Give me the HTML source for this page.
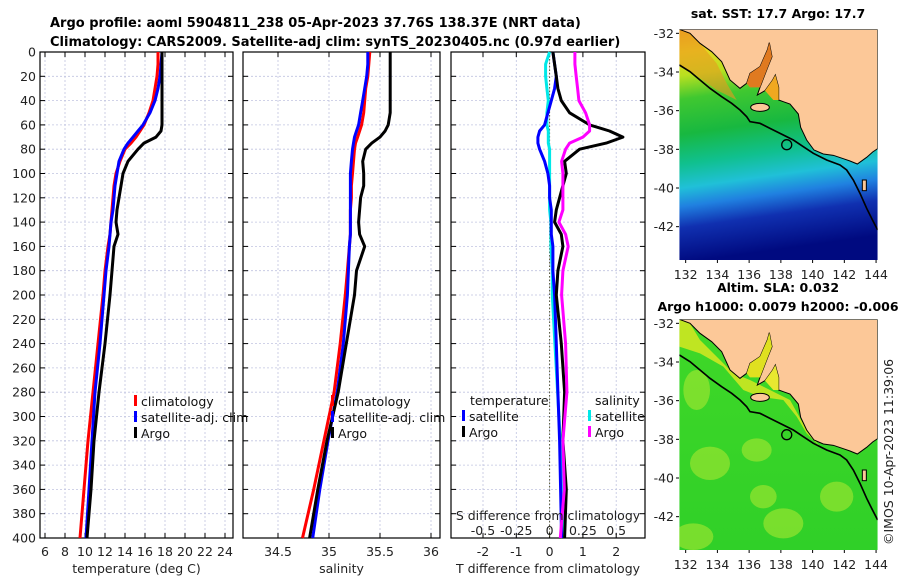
<!DOCTYPE html>
<html><head><meta charset="utf-8"><style>
body{margin:0;background:#fff;}
svg{display:block;font-family:"DejaVu Sans","Liberation Sans",sans-serif;}
</style></head><body>
<svg id="fig" width="900" height="580" viewBox="0 0 900 580">
<text x="50" y="27" font-size="13" font-weight="bold">Argo profile: aoml 5904811_238 05-Apr-2023 37.76S 138.37E (NRT data)</text>
<text x="50" y="46" font-size="13" font-weight="bold">Climatology: CARS2009. Satellite-adj clim: synTS_20230405.nc (0.97d earlier)</text>
<g id="panels"></g>
<g id="maps"></g>
<text transform="translate(893,545) rotate(-90)" font-size="12.5" fill="#222">©IMOS 10-Apr-2023 11:39:06</text>
</svg>
<script>
const depths=[0,10,20,30,40,50,60,65,70,75,80,90,100,110,120,130,140,150,160,180,200,240,280,320,360,400];
const tempArgo=[17.7,17.7,17.7,17.7,17.7,17.7,17.7,17.6,17.1,15.9,15.3,14.3,13.8,13.6,13.4,13.2,13.1,13.3,12.9,12.7,12.5,12.0,11.4,10.9,10.6,10.2];
const tempClim=[17.3,17.3,17.2,17.0,16.8,16.4,15.9,15.5,15.1,14.6,14.0,13.5,13.1,12.9,12.8,12.7,12.6,12.5,12.3,12.0,11.8,11.3,10.8,10.3,9.9,9.5];
const tempSat=[17.7,17.6,17.5,17.3,17.0,16.5,15.8,15.3,14.8,14.3,13.9,13.4,13.2,13.0,12.9,12.8,12.6,12.5,12.4,12.1,11.9,11.5,11.0,10.7,10.4,10.1];
const salArgo=[35.60,35.60,35.60,35.60,35.60,35.60,35.58,35.55,35.50,35.42,35.36,35.33,35.34,35.34,35.31,35.30,35.29,35.30,35.35,35.27,35.25,35.17,35.09,34.98,34.89,34.81];
const salClim=[35.40,35.39,35.38,35.36,35.35,35.34,35.32,35.30,35.28,35.26,35.25,35.24,35.23,35.22,35.22,35.21,35.21,35.21,35.20,35.18,35.16,35.11,35.05,34.95,34.85,34.74];
const salSat=[35.38,35.38,35.37,35.35,35.33,35.31,35.29,35.27,35.25,35.24,35.23,35.22,35.21,35.21,35.21,35.21,35.21,35.21,35.20,35.19,35.18,35.14,35.08,34.99,34.91,34.84];
const dTArgo=[0.1,0.15,0.2,0.25,0.35,0.6,1.2,1.8,2.2,1.7,0.9,0.45,0.5,0.4,0.3,0.2,0.15,0.35,0.4,0.25,0.2,0.35,0.45,0.4,0.5,0.45];
const dTSat=[0.1,0.15,0.2,0.15,0.05,-0.05,-0.15,-0.3,-0.35,-0.35,-0.3,-0.15,-0.05,0.0,0.0,0.05,0.05,0.05,0.1,0.1,0.15,0.2,0.25,0.3,0.33,0.36];
const dSArgo=[0.19,0.19,0.2,0.21,0.22,0.27,0.3,0.3,0.25,0.15,0.12,0.09,0.1,0.1,0.1,0.1,0.07,0.12,0.14,0.1,0.09,0.12,0.13,0.1,0.11,0.08];
const dSSat=[0.0,-0.03,-0.03,-0.02,-0.01,-0.02,-0.02,-0.01,-0.01,-0.01,0.0,0.0,0.0,0.0,0.0,0.0,0.01,0.01,0.01,0.02,0.02,0.04,0.06,0.08,0.09,0.1];
const depthTicks=[0,20,40,60,80,100,120,140,160,180,200,220,240,260,280,300,320,340,360,380,400];
const tTicks=[6,8,10,12,14,16,18,20,22,24];
const sTicks=[34.5,35,35.5,36];
const dTTicks=[-2,-1,0,1,2];
const dSTicks=[-0.5,-0.25,0,0.25,0.5];
const dSTickLabels=["-0.5","-0.25","0","0.25","0.5"];

const NS="http://www.w3.org/2000/svg";
function el(tag,attrs,parent,text){const e=document.createElementNS(NS,tag);for(const k in attrs)e.setAttribute(k,attrs[k]);if(text!==undefined)e.textContent=text;parent.appendChild(e);return e;}
const Y0=52,Y1=538;
function yD(d){return Y0+d*(Y1-Y0)/400;}
const xT=v=>45+(v-6)*10;
const xS=v=>329+(v-35)*102;
const xdT=v=>549.6+v*33.3;
const xdS=v=>549.6+v*133.2;
const P=document.getElementById('panels');

function panel(name,x0,x1,xfun,ticks,labels,xtitle,vgrid){
  const g=el('g',{},P);
  
  
  for(const d of depthTicks){if(d===0||d===400)continue;
    const l=el('line',{x1:x0,x2:x1,y1:yD(d),y2:yD(d),stroke:'#c0c4e0','stroke-width':0.8,'stroke-dasharray':'2,2'},g);
    
    }
  for(const v of vgrid){const x=xfun(v);if(x<=x0+1||x>=x1-1)continue;
    const l=el('line',{x1:x,x2:x,y1:Y0,y2:Y1,stroke:'#c0c4e0','stroke-width':0.8,'stroke-dasharray':'2,2'},g);
    
    }
  for(const d of depthTicks){
    el('line',{x1:x0,x2:x0+5,y1:yD(d),y2:yD(d),stroke:'#000','stroke-width':1},g);
    el('line',{x1:x1,x2:x1-5,y1:yD(d),y2:yD(d),stroke:'#000','stroke-width':1},g);
    if(name==='temperature-panel'){const t=el('text',{x:x0-4,y:yD(d)+4.5,'font-size':12.5,'text-anchor':'end',fill:'#222'},g,String(d));
      
      }
  }
  ticks.forEach((v,i)=>{const x=xfun(v);
    el('line',{x1:x,x2:x,y1:Y1,y2:Y1-5,stroke:'#000'},g);
    el('line',{x1:x,x2:x,y1:Y0,y2:Y0+5,stroke:'#000'},g);
    const t=el('text',{x:x,y:556,'font-size':12.5,'text-anchor':'middle',fill:'#222'},g,labels[i]);
    
    });
  const tt=el('text',{x:(x0+x1)/2,y:573,'font-size':12.5,'text-anchor':'middle',fill:'#222'},g,xtitle);
  
  
  const fr=el('rect',{x:x0,y:Y0,width:x1-x0,height:Y1-Y0,fill:'none',stroke:'#000','stroke-width':1.2},g);
  
  
  return g;
}
function series(g,vals,xfun,color,name,w){
  const pts=depths.map((d,i)=>xfun(vals[i]).toFixed(1)+','+yD(d).toFixed(1)).join(' ');
  const p=el('polyline',{points:pts,fill:'none',stroke:color,'stroke-width':w||3,'stroke-linejoin':'round'},g);
  
  
}
function legend(g,x,y,items){
  items.forEach((it,i)=>{
    const r=el('rect',{x:x,y:y+i*16-7,width:3,height:11,fill:it[0]},g);
    
    
    const t=el('text',{x:x+7,y:y+i*16+4,'font-size':12.5,fill:'#111'},g,it[1]);
    
    
  });
}
const g1=panel('temperature-panel',40,233,xT,tTicks,tTicks.map(String),'temperature (deg C)',tTicks);
series(g1,tempClim,xT,'#ff0000','clim-temperature-line');
series(g1,tempSat,xT,'#0000ff','sat-temperature-line');
series(g1,tempArgo,xT,'#000000','argo-temperature-line');
legend(g1,134,402,[['#ff0000','climatology'],['#0000ff','satellite-adj. clim'],['#000','Argo']]);
const g2=panel('salinity-panel',243,440,xS,sTicks,sTicks.map(String),'salinity',sTicks);
series(g2,salClim,xS,'#ff0000','clim-salinity-line');
series(g2,salSat,xS,'#0000ff','sat-salinity-line');
series(g2,salArgo,xS,'#000000','argo-salinity-line');
legend(g2,331,402,[['#ff0000','climatology'],['#0000ff','satellite-adj. clim'],['#000','Argo']]);
const g3=panel('difference-panel',451,645,xdT,dTTicks,dTTicks.map(String),'T difference from climatology',dTTicks);
const z=el('line',{x1:549.6,x2:549.6,y1:Y0,y2:Y1,stroke:'#555533','stroke-width':1,'stroke-dasharray':'1.5,2'},g3);


series(g3,dSSat,xdS,'#00e8e8','sat-salinity-diff-line');
series(g3,dTSat,xdT,'#0000ff','sat-temperature-diff-line');
series(g3,dTArgo,xdT,'#000000','argo-temperature-diff-line');
series(g3,dSArgo,xdS,'#ff00ff','argo-salinity-diff-line');
const lt=el('text',{x:470,y:405,'font-size':12.5,fill:'#111'},g3,'temperature');


const ls=el('text',{x:595,y:405,'font-size':12.5,fill:'#111'},g3,'salinity');


legend(g3,462,417,[['#0000ff','satellite'],['#000','Argo']]);
legend(g3,588,417,[['#00e8e8','satellite'],['#ff00ff','Argo']]);
const st=el('text',{x:548,y:520,'font-size':12.5,'text-anchor':'middle',fill:'#222'},g3,'S difference from climatology');


dSTicks.forEach((v,i)=>{const t=el('text',{x:xdS(v),y:535,'font-size':12.5,'text-anchor':'middle',fill:'#222'},g3,dSTickLabels[i]);
  
  });

// maps
const lonTicks=[132,134,136,138,140,142,144];
const latTicks=[-32,-34,-36,-38,-40,-42];
const argoLon=138.37, argoLat=-37.76;
const M=document.getElementById('maps');
const land="683,88 88,88 120,100 150,130 185,155 215,185 240,240 270,265 290,250 300,220 330,200 352,150 358,128 366,170 352,205 330,262 322,285 345,272 368,240 376,225 386,262 386,300 400,305 420,312 445,342 452,382 470,420 492,450 520,462 550,466 580,476 600,483 622,492 650,472 668,456 683,446";
const gulf1="300,220 330,200 352,150 358,128 366,170 352,205 330,262 300,262 290,250";
const gulf2="345,272 368,240 376,225 386,262 386,300 370,300";
const shelf="88,195 120,215 150,240 180,265 215,290 245,310 270,330 290,350 300,365 330,370 360,385 400,405 430,420 460,440 490,460 530,480 570,495 590,510 610,540 630,580 650,625 665,655 683,690";
const defs=el('defs',{},document.getElementById('fig'));
const cp=el('clipPath',{id:'mapclip'},defs);
el('rect',{x:88,y:88,width:595,height:692},cp);
const gs=el('linearGradient',{id:'sst',x1:0,y1:0,x2:0.12,y2:1},defs);
[[0,'#f0a020'],[0.1,'#e8d820'],[0.2,'#b8e020'],[0.3,'#40c830'],[0.45,'#18b840'],[0.58,'#10c090'],[0.68,'#20c0d8'],[0.76,'#2080e0'],[0.85,'#1030b0'],[1,'#000a80']].forEach(s=>el('stop',{offset:s[0],'stop-color':s[1]},gs));
const gl=el('linearGradient',{id:'sla',x1:0,y1:0,x2:0,y2:1},defs);
[[0,'#40d828'],[1,'#30d028']].forEach(s=>el('stop',{offset:s[0],'stop-color':s[1]},gl));

function mapPanel(name,oy,fillId,titles,yTitle){
  const g=el('g',{},M);
  
  
  titles.forEach((t,i)=>{const e=el('text',{x:778,y:yTitle+i*19,'font-size':12.5,'font-weight':'bold','text-anchor':'middle'},g,t);
    
    });
  const s0=el('g',{transform:`translate(650,${oy}) scale(0.33333)`},g);
  const s=el('g',{'clip-path':'url(#mapclip)'},s0);
  el('rect',{x:88,y:88,width:595,height:692,fill:`url(#${fillId})`},s);
  if(fillId==='sla'){
    [[180,520,60,50],[400,700,60,45],[130,740,60,40],[320,480,45,35],[560,620,50,45],[140,300,40,60],[600,370,35,30],[340,620,40,35]].forEach(b=>{
      el('ellipse',{cx:b[0],cy:b[1],rx:b[2],ry:b[3],fill:'#a8e830',opacity:0.6},s);});
    el('polygon',{points:"88,88 88,170 150,190 220,230 280,300 330,320 400,330 440,380 470,430 510,470 470,420 420,330 360,300 300,270 250,250 200,200 150,150 120,100",fill:'#e0e820',opacity:0.8},s);
  } else {
    el('polygon',{points:"88,88 88,200 130,220 200,270 260,300 230,250 200,190 150,130 120,100",fill:'#e89a20',opacity:0.6},s);
  }
  const ld=el('polygon',{points:land,fill:'#fcc898',stroke:'#000','stroke-width':3},s);
  
  
  if(fillId==='sst'){el('polygon',{points:gulf1,fill:'#e07a20'},s);el('polygon',{points:gulf2,fill:'#f0a820'},s);}
  else {el('polygon',{points:gulf1,fill:'#e0e020'},s);el('polygon',{points:gulf2,fill:'#e8e830'},s);}
  el('ellipse',{cx:330,cy:322,rx:28,ry:12,fill:'#fcc898',stroke:'#000','stroke-width':3},s);
  el('rect',{x:637,y:540,width:12,height:32,fill:'#fcc898',stroke:'#000','stroke-width':3},s);
  el('polyline',{points:shelf,fill:'none',stroke:'#000','stroke-width':5},s);
  const mx=lon=>650+(107+(lon-132)*47.6)/3;
  const my=lat=>oy+(100+(-32-lat)*58)/3;
  const c=el('circle',{cx:mx(argoLon),cy:my(argoLat),r:5,fill:'none',stroke:'#000','stroke-width':1.3},g);
  
  
  lonTicks.forEach(v=>{el('line',{x1:mx(v),x2:mx(v),y1:oy+260,y2:oy+263,stroke:'#000'},g);
    const t=el('text',{x:mx(v),y:oy+279,'font-size':12.5,'text-anchor':'middle',fill:'#222'},g,String(v));
    
    });
  latTicks.forEach(v=>{el('line',{x1:676,x2:679,y1:my(v),y2:my(v),stroke:'#000'},g);
    const t=el('text',{x:674,y:my(v)+4.5,'font-size':12.5,'text-anchor':'end',fill:'#222'},g,String(v));
    
    });
}
mapPanel('sst-map',0,'sst',['sat. SST: 17.7 Argo: 17.7'],18);
mapPanel('sla-map',290,'sla',['Altim. SLA: 0.032','Argo h1000: 0.0079 h2000: -0.006'],292);
</script>
</body></html>
